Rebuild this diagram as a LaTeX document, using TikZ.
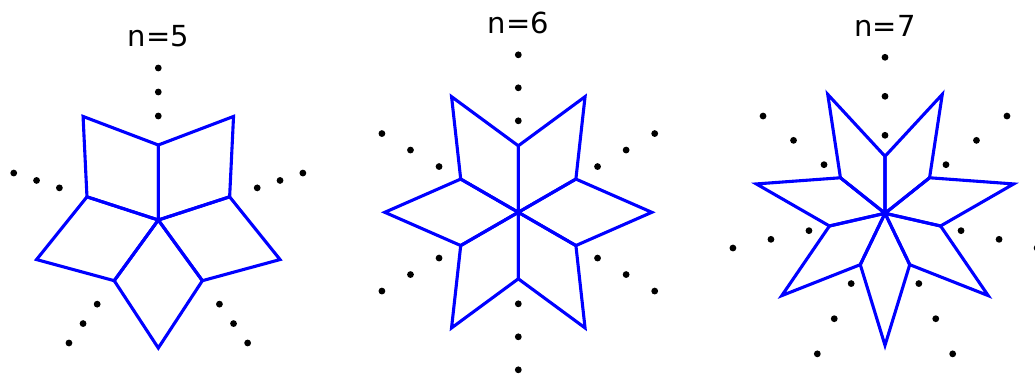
\documentclass[tikz,border=0pt]{standalone}
\usepackage{fontspec}
\setmainfont{DejaVu Sans}
\usetikzlibrary{calc}
\begin{document}
\begin{tikzpicture}[x=1pt,y=-1pt,
  rhomb/.style={draw=blue,line width=3.1pt,line join=miter},
  dotmark/.style={fill=black,draw=none},
  title/.style={anchor=base,inner sep=0pt,font=\fontsize{29}{34}\selectfont}]
\useasboundingbox (0,0) rectangle (1035,373);
\clip (0,0) rectangle (1035,373);
% figure: n, cx, cy, r, R, d1, d2, d3, title baseline
\foreach \n/\cx/\cy/\r/\R/\da/\db/\dc/\ty in
  {5/158.3/220/75/128/104/128/152/46,
   6/518.3/212.3/66.5/133.5/91.5/124.5/157.5/33.3,
   7/885/213.3/57/132/78/117/156/36.7}{
  \coordinate (c\n) at (\cx,\cy);
  \node[title] (t\n) at (\cx,\ty) {n=\n};
  \pgfmathsetmacro{\stp}{360/\n}
  \pgfmathsetmacro{\half}{180/\n}
  \foreach \k in {1,...,\n}{
    \pgfmathsetmacro{\a}{90+(\k-1)*\stp}
    \pgfmathsetmacro{\b}{\a+\stp}
    \pgfmathsetmacro{\m}{\a+\half}
    \coordinate (p\n-\k) at ($(c\n)+({\r*cos(\a)},{-\r*sin(\a)})$);
    \coordinate (q\n-\k) at ($(c\n)+({\R*cos(\m)},{-\R*sin(\m)})$);
    \coordinate (s\n-\k) at ($(c\n)+({\r*cos(\b)},{-\r*sin(\b)})$);
    \draw[rhomb] (c\n) -- (p\n-\k) -- (q\n-\k) -- (s\n-\k) -- cycle;
    \foreach \d in {\da,\db,\dc}{
      \fill[dotmark] ($(c\n)+({\d*cos(\a)},{-\d*sin(\a)})$) circle (3.4);
    }
  }
}
\end{tikzpicture}
\end{document}
